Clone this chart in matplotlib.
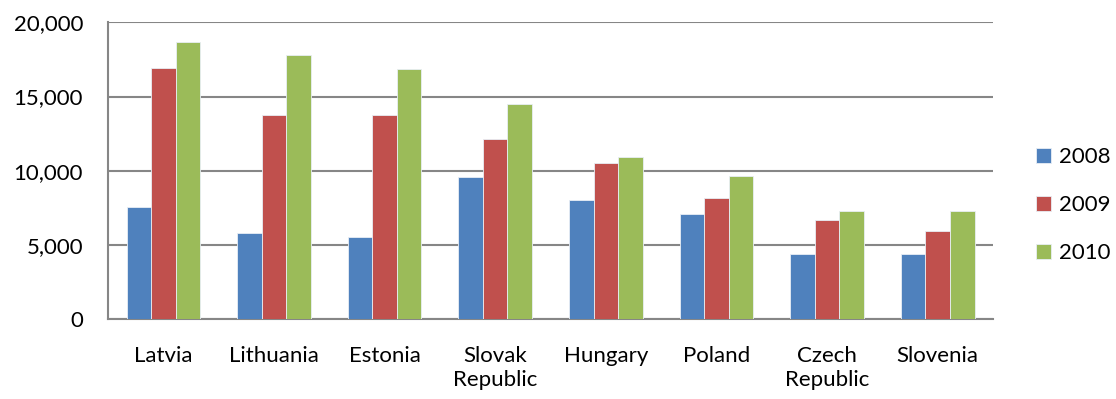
import numpy as np
import matplotlib.pyplot as plt
from matplotlib.ticker import FuncFormatter

countries = ["Latvia", "Lithuania", "Estonia", "Slovak\nRepublic", "Hungary",
             "Poland", "Czech\nRepublic", "Slovenia"]
years = ["2008", "2009", "2010"]
v2008 = [7550, 5820, 5510, 9570, 8020, 7120, 4380, 4380]
v2009 = [16920, 13730, 13780, 12130, 10520, 8160, 6650, 5910]
v2010 = [18670, 17820, 16880, 14490, 10900, 9660, 7280, 7280]
colors = ["#4F81BD", "#C0504D", "#9BBB59"]

plt.rcParams['font.family'] = ['Lato', 'DejaVu Sans']
fig = plt.figure(figsize=(11.16, 3.99), dpi=100)
ax = fig.add_axes([0.0968, 0.200, 0.793, 0.744])

x = np.arange(len(countries))
w = 0.222
for i, vals in enumerate([v2008, v2009, v2010]):
    ax.bar(x + (i - 1) * w, vals, w, color=colors[i], label=years[i],
           edgecolor="#e8eef5", linewidth=0.6, zorder=3)

ax.set_xlim(-0.5, len(countries) - 0.5)
ax.set_ylim(0, 20000)
ax.set_yticks(np.arange(0, 20001, 5000))
ax.yaxis.set_major_formatter(FuncFormatter(lambda v, p: f"{int(v):,}"))
ax.set_xticks(x)
ax.set_xticklabels(countries, fontsize=16, linespacing=1.25)
ax.tick_params(axis='y', labelsize=16, length=0, pad=18)
ax.tick_params(axis='x', length=0, pad=19)
ax.grid(axis='y', color="#868686", linewidth=1.5, zorder=0)
for s in ["top", "right"]:
    ax.spines[s].set_visible(False)
for s in ["left", "bottom"]:
    ax.spines[s].set_color("#868686")
    ax.spines[s].set_linewidth(1.5)

ax.legend(loc="center left", bbox_to_anchor=(1.049, 0.384), frameon=False,
          fontsize=16, handlelength=0.68, handleheight=0.68, labelspacing=1.27,
          handletextpad=0.35, borderpad=0, borderaxespad=0)

fig.savefig("out.png", dpi=100)
